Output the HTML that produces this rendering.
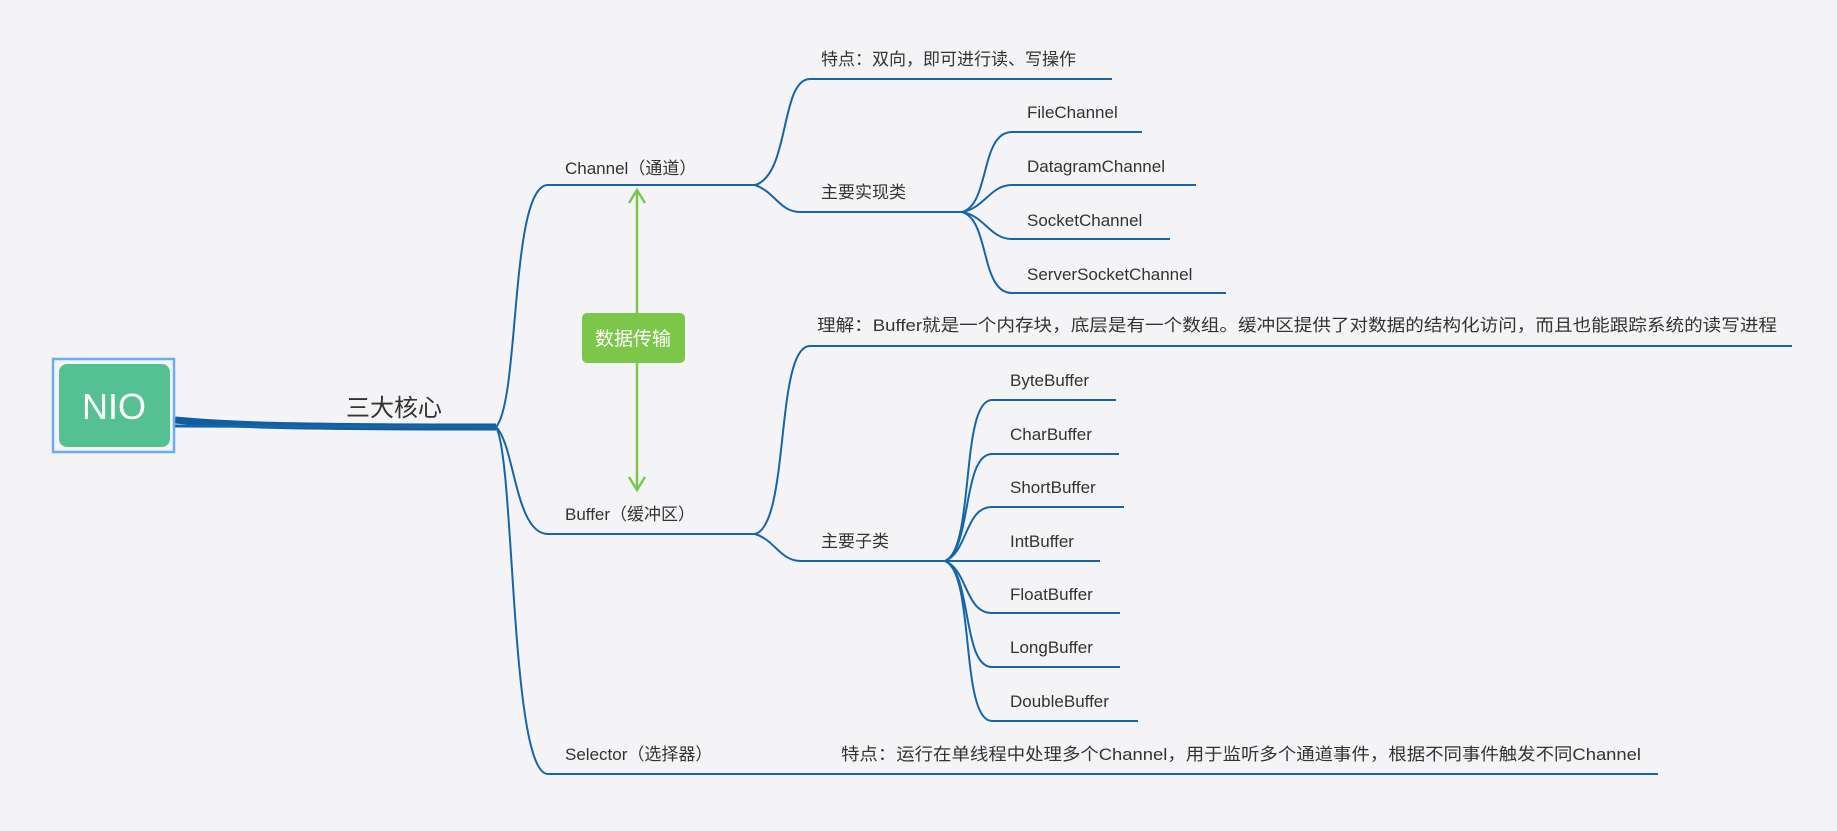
<!DOCTYPE html>
<html><head><meta charset="utf-8"><style>
html,body{margin:0;padding:0;background:#f4f4f6;}
svg{display:block;}
text{font-family:"Liberation Sans","Noto Sans CJK SC",sans-serif;fill:#333;}
</style></head><body>
<svg width="1837" height="831" viewBox="0 0 1837 831" xmlns="http://www.w3.org/2000/svg">
<rect width="1837" height="831" fill="#f4f4f6"/>
<g fill="none" stroke="#1565a8" stroke-width="2">
<!-- main trunk -->
<path d="M175 420 C230 425 280 427 496 427" stroke-width="7" stroke="#0f5ea3"/>
<path d="M175 426 L496 427" stroke-width="3"/>
<!-- level1 -->
<path d="M496 427 C520 400 510 185 548 185 L755 185"/>
<path d="M496 427 C515 445 515 534 548 534 L755 534"/>
<path d="M496 427 C515 460 510 774 548 774 L1658 774"/>
<!-- channel children -->
<path d="M755 185 C790 175 780 79 810 79 L1112 79"/>
<path d="M755 185 C775 192 780 212 800 212 L962 212"/>
<!-- channel impls -->
<path d="M962 212 C990 205 980 132 1012 132 L1142 132"/>
<path d="M962 212 C985 208 990 185 1012 185 L1196 185"/>
<path d="M962 212 C985 216 990 239 1012 239 L1170 239"/>
<path d="M962 212 C990 220 980 293 1012 293 L1226 293"/>
<!-- buffer children -->
<path d="M755 534 C790 525 775 346 810 346 L1792 346"/>
<path d="M755 534 C775 540 780 561 801 561 L945 561"/>
<!-- buffer subclasses -->
<path d="M945 561 C975 550 960 400 992 400 L1116 400"/>
<path d="M945 561 C972 550 962 454 992 454 L1119 454"/>
<path d="M945 561 C968 552 965 507 992 507 L1124 507"/>
<path d="M945 561 L1100 561"/>
<path d="M945 561 C968 570 965 613 992 613 L1120 613"/>
<path d="M945 561 C972 572 962 667 992 667 L1120 667"/>
<path d="M945 561 C975 572 960 721 992 721 L1138 721"/>
</g>
<!-- NIO node -->
<rect x="53" y="359" width="121" height="93" fill="none" stroke="#6aaef0" stroke-width="2.5"/>
<rect x="59" y="364" width="111" height="83" rx="8" fill="#55c193"/>
<text x="114" y="419" font-size="36" text-anchor="middle" style="fill:#fff">NIO</text>
<text x="394" y="416" font-size="24" text-anchor="middle">三大核心</text>
<!-- green arrow -->
<g stroke="#7cc64a" stroke-width="2.5" fill="none">
<line x1="637" y1="190" x2="637" y2="490"/>
<polyline points="629,203 637,190 645,203"/>
<polyline points="629,477 637,490 645,477"/>
</g>
<rect x="582" y="313" width="103" height="50" rx="5" fill="#7cc64a"/>
<text x="633" y="345" font-size="19" text-anchor="middle" style="fill:#fff">数据传输</text>
<g font-size="17">
<text x="565" y="174">Channel（通道）</text>
<text x="821" y="65">特点：双向，即可进行读、写操作</text>
<text x="821" y="198">主要实现类</text>
<text x="1027" y="118">FileChannel</text>
<text x="1027" y="172">DatagramChannel</text>
<text x="1027" y="226">SocketChannel</text>
<text x="1027" y="280">ServerSocketChannel</text>
<text x="565" y="520">Buffer（缓冲区）</text>
<text x="817" y="331" textLength="960" lengthAdjust="spacingAndGlyphs">理解：Buffer就是一个内存块，底层是有一个数组。缓冲区提供了对数据的结构化访问，而且也能跟踪系统的读写进程</text>
<text x="821" y="547">主要子类</text>
<text x="1010" y="386">ByteBuffer</text>
<text x="1010" y="440">CharBuffer</text>
<text x="1010" y="493">ShortBuffer</text>
<text x="1010" y="547">IntBuffer</text>
<text x="1010" y="600">FloatBuffer</text>
<text x="1010" y="653">LongBuffer</text>
<text x="1010" y="707">DoubleBuffer</text>
<text x="565" y="760">Selector（选择器）</text>
<text x="841" y="760" textLength="800" lengthAdjust="spacingAndGlyphs">特点：运行在单线程中处理多个Channel，用于监听多个通道事件，根据不同事件触发不同Channel</text>
</g>
</svg>
</body></html>
